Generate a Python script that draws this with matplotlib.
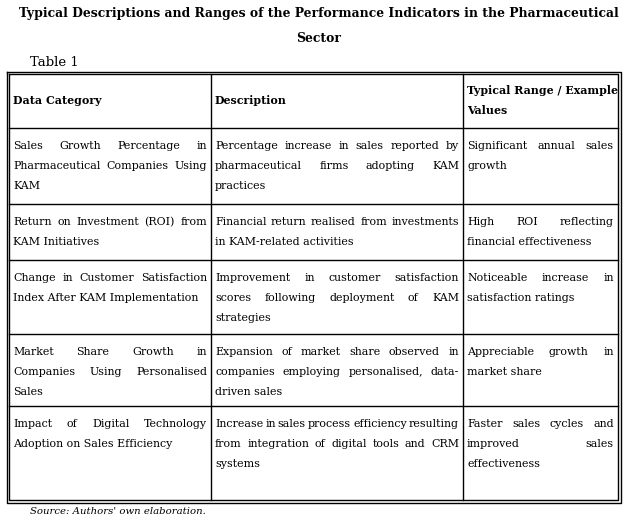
import matplotlib
matplotlib.use("Agg")
import matplotlib.pyplot as plt

title_lines = ["Typical Descriptions and Ranges of the Performance Indicators in the Pharmaceutical",
               "Sector"]
headers = [["Data Category"], ["Description"], ["Typical Range / Example", "Values"]]
rows = [
    [["Sales Growth Percentage in", "Pharmaceutical Companies Using", "KAM"],
     ["Percentage increase in sales reported by", "pharmaceutical firms adopting KAM", "practices"],
     ["Significant annual sales", "growth"]],
    [["Return on Investment (ROI) from", "KAM Initiatives"],
     ["Financial return realised from investments", "in KAM-related activities"],
     ["High ROI reflecting", "financial effectiveness"]],
    [["Change in Customer Satisfaction", "Index After KAM Implementation"],
     ["Improvement in customer satisfaction", "scores following deployment of KAM", "strategies"],
     ["Noticeable increase in", "satisfaction ratings"]],
    [["Market Share Growth in", "Companies Using Personalised", "Sales"],
     ["Expansion of market share observed in", "companies employing personalised, data-", "driven sales"],
     ["Appreciable growth in", "market share"]],
    [["Impact of Digital Technology", "Adoption on Sales Efficiency"],
     ["Increase in sales process efficiency resulting", "from integration of digital tools and CRM", "systems"],
     ["Faster sales cycles and", "improved sales", "effectiveness"]],
]
source = "Source: Authors' own elaboration."

W, H = 627, 519
col_x = [9, 211, 463, 618]
row_y = [74, 128, 204, 260, 334, 406, 500]
line_h = 20
font = "DejaVu Serif"
fs = 7.9

fig = plt.figure(figsize=(W / 100, H / 100), dpi=100)
ax = fig.add_axes([0, 0, 1, 1])
ax.set_xlim(0, W)
ax.set_ylim(H, 0)
ax.set_axis_off()
renderer = fig.canvas.get_renderer()


def text_width(s, **kw):
    t = ax.text(0, 0, s, fontsize=fs, family=font, **kw)
    w = t.get_window_extent(renderer).width
    t.remove()
    return w


def draw_line(x0, x1, y, s, justify, **kw):
    words = s.split(" ")
    if not justify or len(words) < 2:
        ax.text(x0, y, s, fontsize=fs, family=font, va="center", **kw)
        return
    widths = [text_width(w, **kw) for w in words]
    gap = (x1 - x0 - sum(widths)) / (len(words) - 1)
    x = x0
    for w, ww in zip(words, widths):
        ax.text(x, y, w, fontsize=fs, family=font, va="center", **kw)
        x += ww + gap


for i, t in enumerate(title_lines):
    ax.text(W / 2 + 5, 14 + 24 * i, t, fontsize=8.9, family=font, weight="bold",
            ha="center", va="center")
ax.text(30, 62, "Table 1", fontsize=9.5, family=font, va="center")

# header
for c, lines in enumerate(headers):
    y0 = (row_y[0] + row_y[1]) / 2 - (len(lines) - 1) * line_h / 2
    for k, s in enumerate(lines):
        draw_line(col_x[c] + 4, col_x[c + 1] - 4, y0 + k * line_h, s, False, weight="bold")

for r, row in enumerate(rows):
    top = row_y[r + 1]
    for c, lines in enumerate(row):
        for k, s in enumerate(lines):
            last = k == len(lines) - 1
            draw_line(col_x[c] + 4, col_x[c + 1] - 4, top + 18 + k * line_h, s, not last)

# grid lines
for y in row_y[1:-1]:
    ax.plot([col_x[0], col_x[-1]], [y, y], color="black", lw=1)
for x in col_x[1:-1]:
    ax.plot([x, x], [row_y[0], row_y[-1]], color="black", lw=1)
for off in [0, -2.5]:
    ax.plot([col_x[0] + off, col_x[-1] - off, col_x[-1] - off, col_x[0] + off, col_x[0] + off],
            [row_y[0] + off, row_y[0] + off, row_y[-1] - off, row_y[-1] - off, row_y[0] + off],
            color="black", lw=1)

ax.text(30, 511, source, fontsize=7.3, family=font, style="italic", va="center")

fig.savefig("out.png", dpi=100)
